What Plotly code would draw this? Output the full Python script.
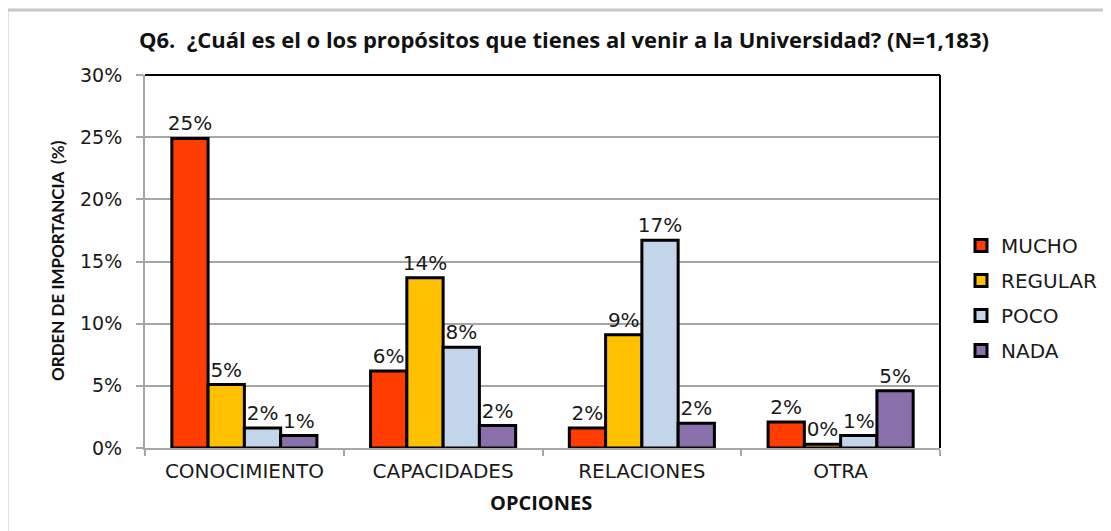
import plotly.graph_objects as go

categories = ["CONOCIMIENTO", "CAPACIDADES", "RELACIONES", "OTRA"]
series_names = ["MUCHO", "REGULAR", "POCO", "NADA"]
mucho = [0.249, 0.062, 0.016, 0.021]
regular = [0.051, 0.137, 0.091, 0.003]
poco = [0.016, 0.081, 0.167, 0.010]
nada = [0.010, 0.018, 0.020, 0.046]
colors = ["#FF3D00", "#FFC000", "#C3D5EA", "#8A70AA"]
y_ticks = [0, 0.05, 0.10, 0.15, 0.20, 0.25, 0.30]

title_text = "Q6.  ¿Cuál es el o los propósitos que tienes al venir a la Universidad? (N=1,183)"
y_title = "ORDEN DE IMPORTANCIA  (%)"
x_title = "OPCIONES"

W, H = 1111, 531
OFF = 8  # page body margin
# target plot area on screen: x 145..940, y 75..448
L, T = 145 - OFF, 75 - OFF
R, B = W - (940 - OFF), H - (448 - OFF)
pw, ph = W - L - R, H - T - B

def px_x(x):
    return (x - OFF - L) / pw

def px_y(y):
    return (H - B - (y - OFF)) / ph

fig = go.Figure()
for name, vals, col in zip(series_names, [mucho, regular, poco, nada], colors):
    fig.add_trace(go.Bar(
        name=name, x=categories, y=vals,
        marker=dict(color=col, line=dict(color="black", width=3)),
        texttemplate="%{y:.0%}", textposition="outside", constraintext="none",
        textfont=dict(family="DejaVu Sans", size=20, color="#1a1a1a"),
        cliponaxis=False, legendgroup=name,
    ))

fig.update_layout(
    width=W, height=H,
    margin=dict(l=L, r=R, t=T, b=B, autoexpand=False),
    paper_bgcolor="white", plot_bgcolor="white",
    barmode="group", bargap=0.27, bargroupgap=0,
    title=dict(text=title_text, x=(564 - OFF) / W, xanchor="center",
               y=1 - (40 - OFF) / H, yanchor="middle",
               font=dict(family="Open Sans", size=22, color="#111111", weight="bold")),
    font=dict(family="DejaVu Sans", size=18, color="#1a1a1a"),
    legend=dict(x=px_x(961), y=px_y(226), xanchor="left", yanchor="top",
                font=dict(family="DejaVu Sans", size=20, color="#1a1a1a"),
                tracegroupgap=6, itemwidth=30, bgcolor="rgba(0,0,0,0)"),
    showlegend=True,
    xaxis=dict(showline=True, linecolor="#A6A6A6", linewidth=2, ticks="outside",
               tickson="boundaries", ticklen=6, tickcolor="#A6A6A6", tickwidth=2,
               ticklabelstandoff=4,
               tickfont=dict(family="DejaVu Sans", size=20, color="#1a1a1a"),
               showgrid=False),
    yaxis=dict(range=[0, 0.30], tickvals=y_ticks, tickformat=".0%",
               showline=True, linecolor="#A6A6A6", linewidth=2, ticks="outside",
               ticklen=7, tickcolor="#A6A6A6", tickwidth=2, ticklabelstandoff=10,
               showgrid=True, gridcolor="#A6A6A6", gridwidth=1.5, zeroline=False,
               tickfont=dict(family="DejaVu Sans", size=19, color="#1a1a1a")),
)

fig.add_annotation(text=y_title, xref="paper", yref="paper", x=px_x(57), y=px_y(261),
                   textangle=-90, showarrow=False, xanchor="center", yanchor="middle",
                   font=dict(family="Lato", size=17, color="#111111", weight="bold"))
fig.add_annotation(text=x_title, xref="paper", yref="paper", x=px_x(541), y=px_y(503),
                   showarrow=False, xanchor="center", yanchor="middle",
                   font=dict(family="Open Sans", size=20, color="#111111", weight="bold"))

# plot-area border (top and right in black)
fig.add_shape(type="line", xref="paper", yref="paper", x0=0, x1=1, y0=1, y1=1,
              line=dict(color="black", width=2))
fig.add_shape(type="line", xref="paper", yref="paper", x0=1, x1=1, y0=0, y1=1,
              line=dict(color="black", width=2))
# outer chart frame (gray)
fig.add_shape(type="line", xref="paper", yref="paper", x0=px_x(7), x1=px_x(7),
              y0=px_y(H + 20), y1=px_y(10), line=dict(color="#C8C8C8", width=3))
fig.add_shape(type="line", xref="paper", yref="paper", x0=px_x(7), x1=px_x(W + 20),
              y0=px_y(10), y1=px_y(10), line=dict(color="#C8C8C8", width=3))

fig.write_html("out.html")
